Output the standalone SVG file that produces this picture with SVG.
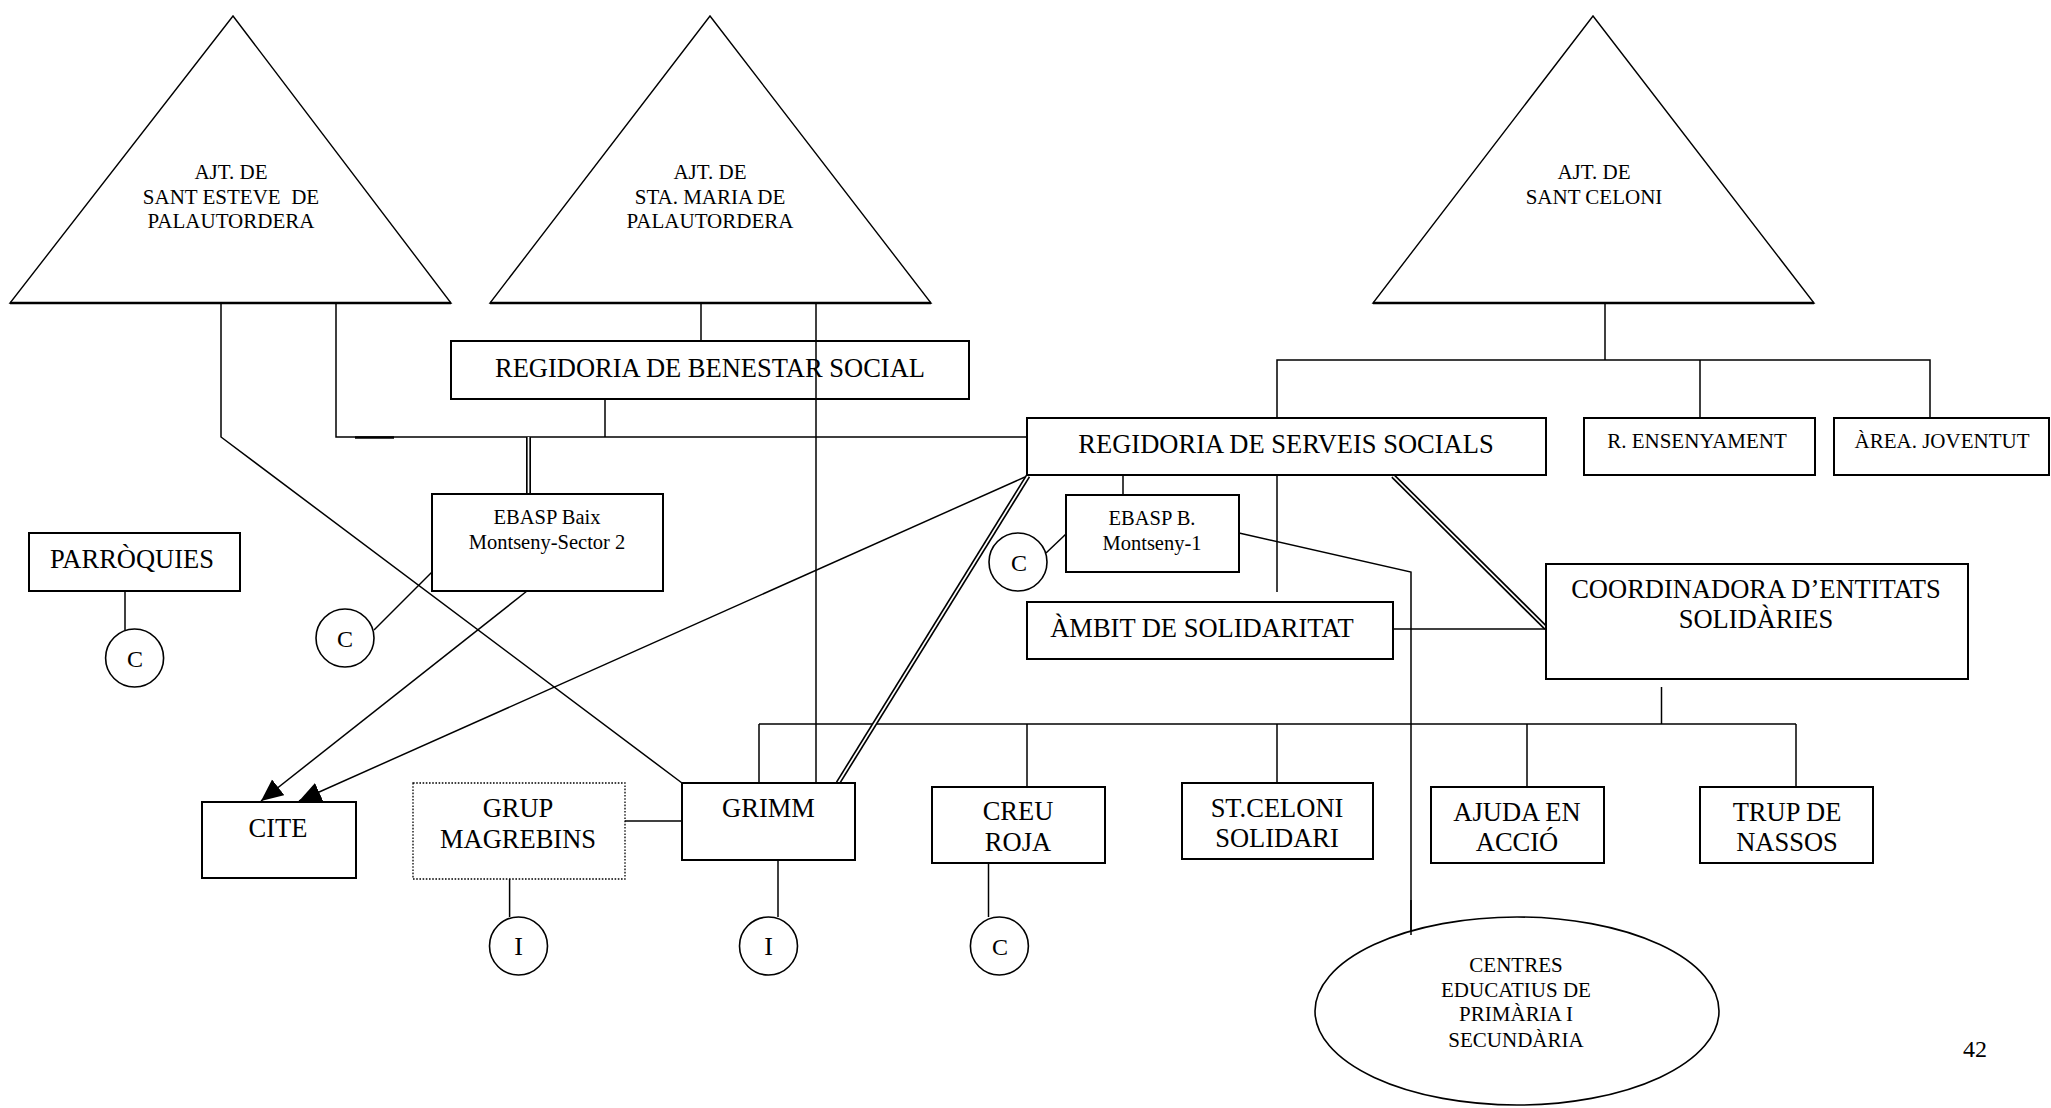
<svg xmlns="http://www.w3.org/2000/svg" width="2051" height="1108" viewBox="0 0 2051 1108">
<style>
.bg{fill:#fff}
.box{fill:#fff;stroke:#000;stroke-width:2}
.dot{fill:#fff;stroke:#000;stroke-width:1.3;stroke-dasharray:1.6 1.6}
.tri{fill:#fff;stroke:#000;stroke-width:1.4}
.base{stroke:#000;stroke-width:2.6}
.circ{fill:#fff;stroke:#000;stroke-width:1.6}
.ln{fill:none;stroke:#000;stroke-width:1.5}
.dblo{fill:none;stroke:#000;stroke-width:5}
.dbli{fill:none;stroke:#fff;stroke-width:1.7}
.t{font-family:"Liberation Serif","Times New Roman",serif;text-anchor:middle;fill:#000}
.big{font-size:26.5px}
.mid{font-size:21px}
.sm{font-size:20.5px}
</style>
<defs>
<marker id="arr" markerUnits="userSpaceOnUse" markerWidth="24" markerHeight="22" refX="22" refY="10" orient="auto">
<path d="M0,0 L22,10 L0,20 z" fill="#000"/>
</marker>
</defs>
<rect class="bg" x="0" y="0" width="2051" height="1108"/>

<g id="connectors">
<polyline class="ln" points="221,303 221,437 682,783"/>
<polyline class="ln" points="336,303 336,437 1027,437"/>
<line x1="355" y1="437.5" x2="394" y2="437.5" stroke="#000" stroke-width="2.6"/>
<line class="ln" x1="701" y1="303" x2="701" y2="341"/>
<line class="ln" x1="816" y1="303" x2="816" y2="783"/>
<line class="ln" x1="605" y1="399" x2="605" y2="437"/>
<line class="dblo" x1="528.5" y1="437" x2="528.5" y2="494"/>
<line class="dbli" x1="528.5" y1="437" x2="528.5" y2="494"/>
<line class="ln" x1="1605" y1="303" x2="1605" y2="360"/>
<polyline class="ln" points="1277,418 1277,360 1930,360 1930,418"/>
<line class="ln" x1="1700" y1="360" x2="1700" y2="418"/>
<line class="ln" x1="1123" y1="475" x2="1123" y2="495"/>
<line class="ln" x1="1277" y1="475" x2="1277" y2="592"/>
<line class="ln" x1="1046" y1="553" x2="1066" y2="534"/>
<polyline class="ln" points="1239,533 1411,572 1411,935"/>
<line class="dblo" x1="1393" y1="476" x2="1546" y2="628"/>
<line class="dbli" x1="1393" y1="476" x2="1546" y2="628"/>
<line class="ln" x1="1393" y1="629" x2="1546" y2="629"/>
<line class="ln" x1="1661.5" y1="687" x2="1661.5" y2="724"/>
<line class="ln" x1="759" y1="724" x2="1796" y2="724"/>
<line class="ln" x1="759" y1="724" x2="759" y2="783"/>
<line class="ln" x1="1027" y1="724" x2="1027" y2="787"/>
<line class="ln" x1="1277" y1="724" x2="1277" y2="783"/>
<line class="ln" x1="1527" y1="724" x2="1527" y2="787"/>
<line class="ln" x1="1796" y1="724" x2="1796" y2="787"/>
<line class="ln" x1="1025" y1="477" x2="299" y2="801" marker-end="url(#arr)"/>
<line class="dblo" x1="1028" y1="476" x2="838" y2="783"/>
<line class="dbli" x1="1028" y1="476" x2="838" y2="783"/>
<line class="ln" x1="527" y1="591" x2="261" y2="801" marker-end="url(#arr)"/>
<line class="ln" x1="374" y1="630" x2="432" y2="572"/>
<line class="ln" x1="125" y1="591" x2="125" y2="630"/>
<line class="ln" x1="625" y1="821" x2="682" y2="821"/>
<line class="ln" x1="509.6" y1="879" x2="509.6" y2="917"/>
<line class="ln" x1="778" y1="860" x2="778" y2="917"/>
<line class="ln" x1="988.5" y1="863" x2="988.5" y2="917"/>
</g>

<g id="ajt-sant-esteve">
<polygon class="tri" points="233,16 10,303 451,303"/>
<line class="base" x1="10" y1="303" x2="451" y2="303"/>
<text class="t mid" x="231" y="179">AJT. DE</text>
<text class="t mid" x="231" y="204" xml:space="preserve">SANT ESTEVE  DE</text>
<text class="t mid" x="231" y="228">PALAUTORDERA</text>
</g>
<g id="ajt-sta-maria">
<polygon class="tri" points="710,16 490,303 931,303"/>
<line class="base" x1="490" y1="303" x2="931" y2="303"/>
<text class="t mid" x="710" y="179">AJT. DE</text>
<text class="t mid" x="710" y="204">STA. MARIA DE</text>
<text class="t mid" x="710" y="228">PALAUTORDERA</text>
</g>
<g id="ajt-sant-celoni">
<polygon class="tri" points="1593,16 1373,303 1814,303"/>
<line class="base" x1="1373" y1="303" x2="1814" y2="303"/>
<text class="t mid" x="1594" y="179">AJT. DE</text>
<text class="t mid" x="1594" y="204">SANT CELONI</text>
</g>

<g id="regidoria-benestar">
<rect class="box" x="451" y="341" width="518" height="58"/>
<text class="t big" x="710" y="377">REGIDORIA DE BENESTAR SOCIAL</text>
</g>
<line class="ln" x1="816" y1="341" x2="816" y2="399"/>

<g id="regidoria-serveis">
<rect class="box" x="1027" y="418" width="519" height="57"/>
<text class="t big" x="1286" y="453">REGIDORIA DE SERVEIS SOCIALS</text>
</g>
<g id="r-ensenyament">
<rect class="box" x="1584" y="418" width="231" height="57"/>
<text class="t mid" x="1697" y="448">R. ENSENYAMENT</text>
</g>
<g id="area-joventut">
<rect class="box" x="1834" y="418" width="215" height="57"/>
<text class="t mid" x="1942" y="448">ÀREA. JOVENTUT</text>
</g>

<g id="ebasp-baix">
<rect class="box" x="432" y="494" width="231" height="97"/>
<text class="t sm" x="547" y="524">EBASP Baix</text>
<text class="t sm" x="547" y="549">Montseny-Sector 2</text>
</g>
<g id="parroquies">
<rect class="box" x="29" y="533" width="211" height="58"/>
<text class="t big" x="132" y="568">PARRÒQUIES</text>
</g>
<g id="c-parroquies">
<circle class="circ" cx="134.6" cy="658" r="29"/>
<text class="t" style="font-size:24px" x="135" y="667">C</text>
</g>
<g id="c-ebasp-baix">
<circle class="circ" cx="345" cy="638" r="29"/>
<text class="t" style="font-size:24px" x="345" y="647">C</text>
</g>

<g id="ebasp-b">
<rect class="box" x="1066" y="495" width="173" height="77"/>
<text class="t sm" x="1152" y="525">EBASP B.</text>
<text class="t sm" x="1152" y="550">Montseny-1</text>
</g>
<g id="c-ebasp-b">
<circle class="circ" cx="1018" cy="562" r="29"/>
<text class="t" style="font-size:24px" x="1019" y="571">C</text>
</g>

<g id="ambit-solidaritat">
<rect class="box" x="1027" y="602" width="366" height="57"/>
<text class="t big" x="1202" y="637">ÀMBIT DE SOLIDARITAT</text>
</g>
<g id="coordinadora">
<rect class="box" x="1546" y="564" width="422" height="115"/>
<text class="t big" x="1756" y="598">COORDINADORA D’ENTITATS</text>
<text class="t big" x="1756" y="628">SOLIDÀRIES</text>
</g>

<g id="cite">
<rect class="box" x="202" y="802" width="154" height="76"/>
<text class="t big" x="278" y="837">CITE</text>
</g>
<g id="grup-magrebins">
<rect class="dot" x="413" y="783" width="212" height="96"/>
<text class="t big" x="518" y="817">GRUP</text>
<text class="t big" x="518" y="848">MAGREBINS</text>
</g>
<g id="grimm">
<rect class="box" x="682" y="783" width="173" height="77"/>
<text class="t big" x="768.5" y="817">GRIMM</text>
</g>
<g id="creu-roja">
<rect class="box" x="932" y="787" width="173" height="76"/>
<text class="t big" x="1018" y="820">CREU</text>
<text class="t big" x="1018" y="851">ROJA</text>
</g>
<g id="st-celoni-solidari">
<rect class="box" x="1182" y="783" width="191" height="76"/>
<text class="t big" x="1277" y="817">ST.CELONI</text>
<text class="t big" x="1277" y="847">SOLIDARI</text>
</g>
<g id="ajuda-en-accio">
<rect class="box" x="1431" y="787" width="173" height="76"/>
<text class="t big" x="1517" y="821">AJUDA EN</text>
<text class="t big" x="1517" y="851">ACCIÓ</text>
</g>
<g id="trup-de-nassos">
<rect class="box" x="1700" y="787" width="173" height="76"/>
<text class="t big" x="1787" y="821">TRUP DE</text>
<text class="t big" x="1787" y="851">NASSOS</text>
</g>

<g id="i-grup">
<circle class="circ" cx="518.5" cy="946" r="29"/>
<text class="t" style="font-size:26px" x="518.5" y="955">I</text>
</g>
<g id="i-grimm">
<circle class="circ" cx="768.5" cy="946" r="29"/>
<text class="t" style="font-size:26px" x="768.5" y="955">I</text>
</g>
<g id="c-creu">
<circle class="circ" cx="999.4" cy="946" r="29"/>
<text class="t" style="font-size:24px" x="1000" y="955">C</text>
</g>

<g id="centres-educatius">
<ellipse class="circ" cx="1517" cy="1011" rx="202" ry="94"/>
<text class="t mid" x="1516" y="972">CENTRES</text>
<text class="t mid" x="1516" y="997">EDUCATIUS DE</text>
<text class="t mid" x="1516" y="1021">PRIMÀRIA I</text>
<text class="t mid" x="1516" y="1047">SECUNDÀRIA</text>
</g>
<line class="ln" x1="1411" y1="900" x2="1411" y2="935"/>

<text class="t" style="font-size:24px" x="1975" y="1057">42</text>
</svg>
